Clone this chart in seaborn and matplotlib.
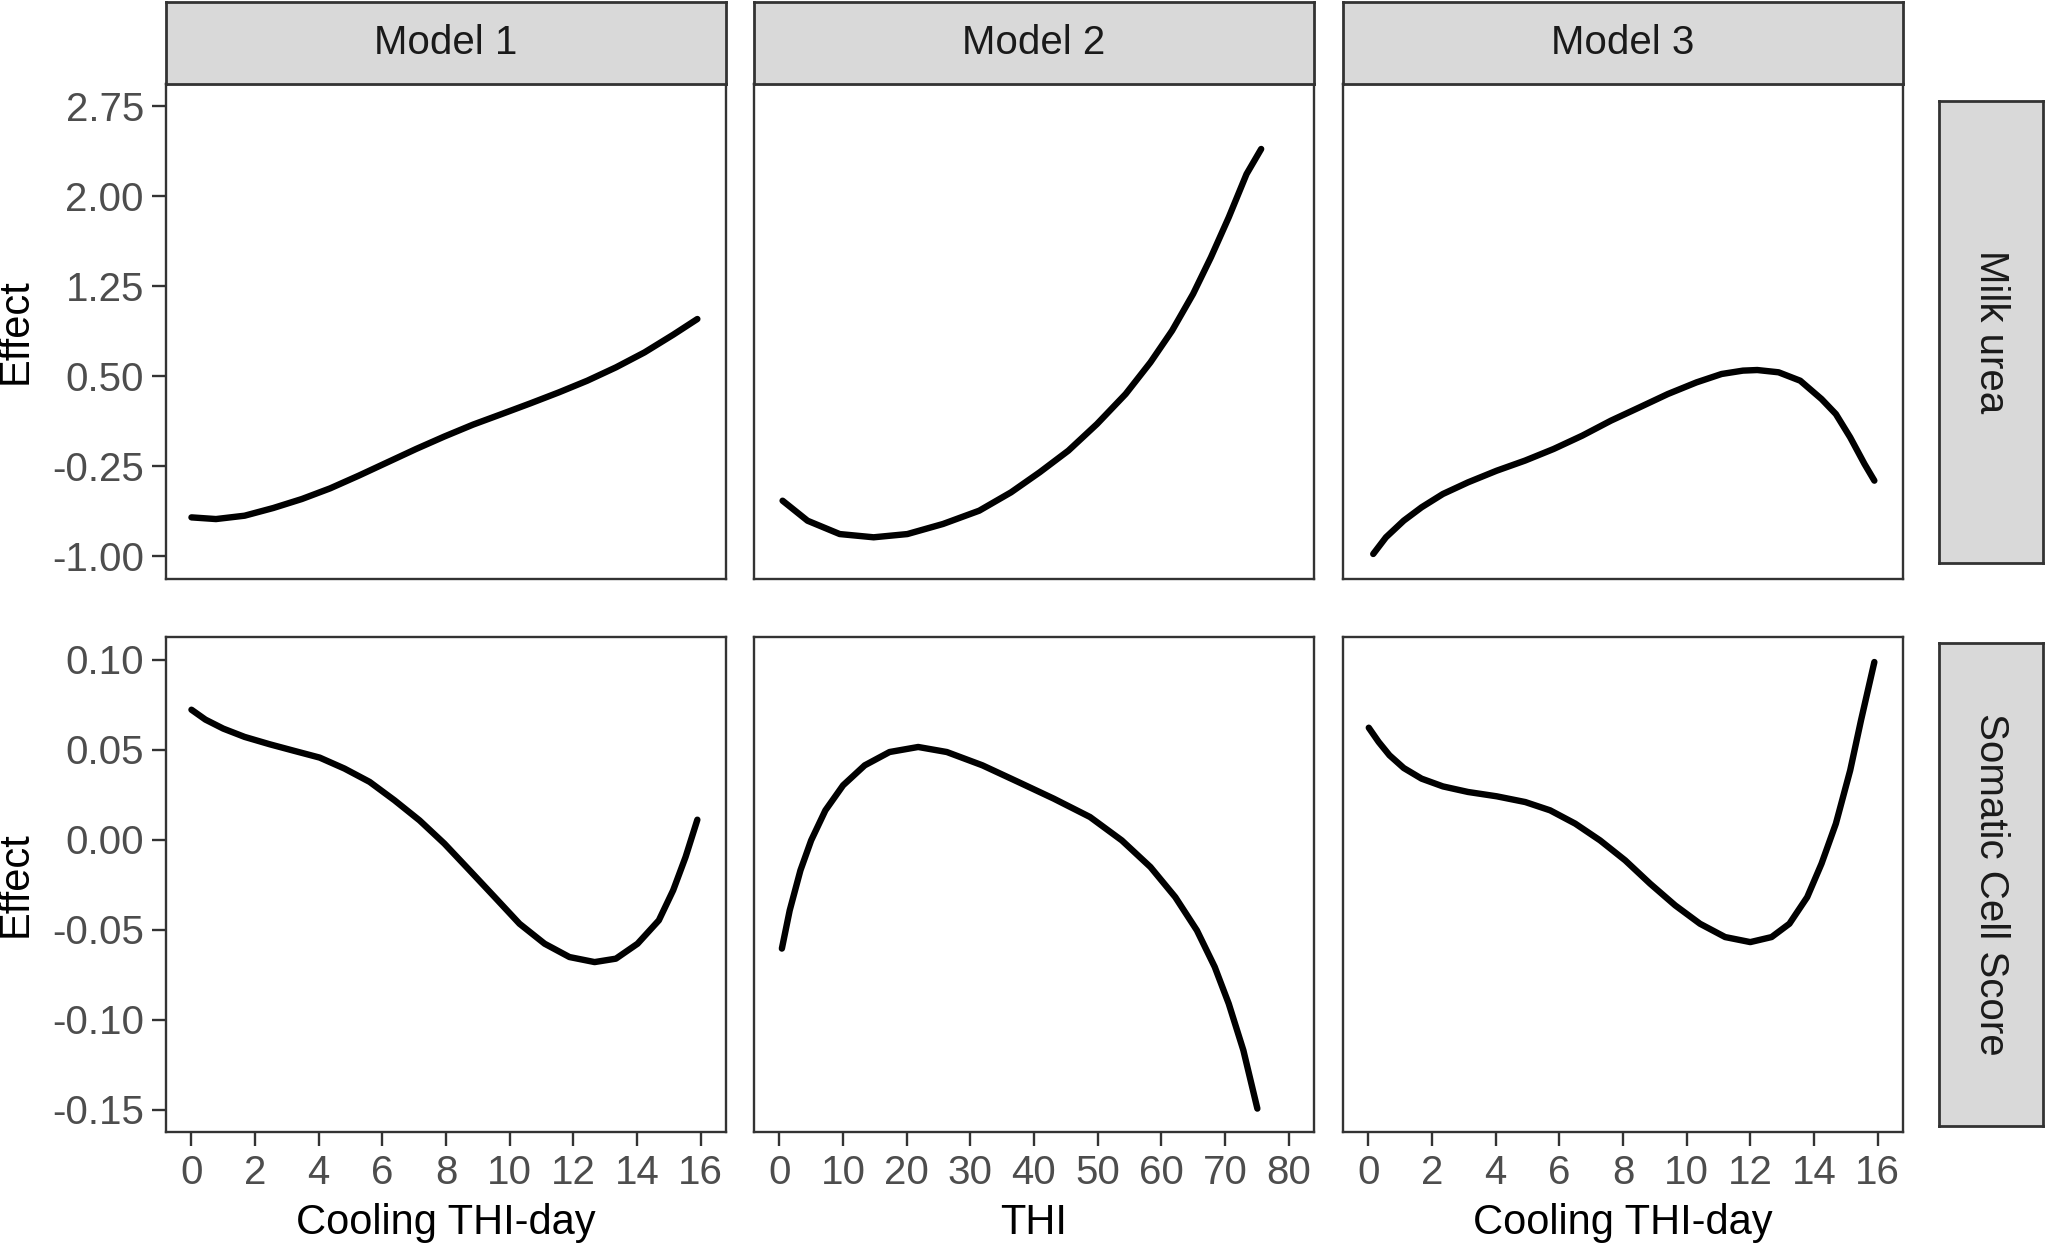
import numpy as np
import pandas as pd
import matplotlib
matplotlib.use("Agg")
import matplotlib.pyplot as plt
import seaborn as sns

# -----------------------------
# Data
# -----------------------------
models = ["Model 1", "Model 2", "Model 3"]
traits = ["Milk urea", "Somatic Cell Score"]
x_titles = ["Cooling THI-day", "THI", "Cooling THI-day"]

# Milk urea
urea_m1_x = [0.0, 0.77, 1.67, 2.57, 3.47, 4.36, 5.26, 6.16, 7.06, 7.95, 8.85,
             9.75, 10.65, 11.55, 12.44, 13.34, 14.24, 15.14, 15.9]
urea_m1_y = [-0.674, -0.688, -0.660, -0.596, -0.521, -0.432, -0.326, -0.215,
             -0.104, 0.0, 0.099, 0.187, 0.276, 0.368, 0.465, 0.576, 0.701,
             0.848, 0.979]

urea_m2_x = [0.49, 4.42, 9.47, 14.8, 20.1, 25.7, 31.4, 36.4, 40.9, 45.4, 49.9,
             54.4, 58.3, 61.7, 65.0, 67.8, 70.6, 73.4, 75.7]
urea_m2_y = [-0.535, -0.702, -0.813, -0.840, -0.813, -0.729, -0.618, -0.465,
             -0.298, -0.118, 0.104, 0.354, 0.618, 0.882, 1.188, 1.493, 1.826,
             2.187, 2.396]

urea_m3_x = [0.15, 0.55, 1.11, 1.67, 2.34, 3.13, 4.03, 4.92, 5.82, 6.72, 7.62,
             8.52, 9.41, 10.31, 11.10, 11.77, 12.22, 12.89, 13.57, 14.24,
             14.69, 15.14, 15.59, 15.90]
urea_m3_y = [-0.979, -0.840, -0.701, -0.590, -0.479, -0.382, -0.285, -0.201,
             -0.104, 0.007, 0.132, 0.243, 0.354, 0.451, 0.521, 0.549, 0.554,
             0.535, 0.465, 0.312, 0.187, -0.007, -0.229, -0.368]

# Somatic Cell Score
scs_m1_x = [0.0, 0.44, 1.0, 1.67, 2.46, 3.24, 4.03, 4.81, 5.60, 6.38, 7.17,
            7.95, 8.74, 9.53, 10.31, 11.10, 11.88, 12.67, 13.34, 14.02, 14.69,
            15.14, 15.53, 15.9]
scs_m1_y = [0.0721, 0.0666, 0.0616, 0.0570, 0.0529, 0.0492, 0.0455, 0.0394,
            0.0320, 0.0218, 0.0106, -0.0023, -0.0171, -0.0320, -0.0468,
            -0.0579, -0.0653, -0.0681, -0.0662, -0.0579, -0.0449, -0.0282,
            -0.0097, 0.0110]

scs_m2_x = [0.38, 1.61, 3.30, 4.98, 7.22, 10.0, 13.4, 17.3, 21.8, 26.3, 31.9,
            37.5, 43.1, 48.8, 53.8, 58.3, 62.2, 65.6, 68.4, 70.6, 72.9, 75.1]
scs_m2_y = [-0.0606, -0.0394, -0.0171, -0.0005, 0.0162, 0.0301, 0.0412,
            0.0486, 0.0514, 0.0486, 0.0412, 0.0320, 0.0227, 0.0125, -0.0005,
            -0.0153, -0.0320, -0.0505, -0.0708, -0.0912, -0.1171, -0.1495]

scs_m3_x = [0.01, 0.32, 0.66, 1.11, 1.67, 2.34, 3.13, 4.03, 4.93, 5.71, 6.50,
            7.28, 8.07, 8.85, 9.64, 10.42, 11.21, 12.0, 12.67, 13.23, 13.79,
            14.24, 14.69, 15.14, 15.48, 15.9]
scs_m3_y = [0.0621, 0.0542, 0.0468, 0.0397, 0.0338, 0.0295, 0.0264, 0.0240,
            0.0208, 0.0162, 0.0088, -0.0005, -0.0116, -0.0245, -0.0366,
            -0.0468, -0.0542, -0.0570, -0.0542, -0.0468, -0.0320, -0.0134,
            0.0088, 0.0384, 0.0662, 0.0986]

y_breaks = [[-1.00, -0.25, 0.50, 1.25, 2.00, 2.75],
            [-0.15, -0.10, -0.05, 0.00, 0.05, 0.10]]
x_breaks = [list(range(0, 17, 2)), list(range(0, 81, 10)), list(range(0, 17, 2))]

# -----------------------------
# Long table for plotting
# -----------------------------
series = {
    ("Milk urea", "Model 1"): (urea_m1_x, urea_m1_y),
    ("Milk urea", "Model 2"): (urea_m2_x, urea_m2_y),
    ("Milk urea", "Model 3"): (urea_m3_x, urea_m3_y),
    ("Somatic Cell Score", "Model 1"): (scs_m1_x, scs_m1_y),
    ("Somatic Cell Score", "Model 2"): (scs_m2_x, scs_m2_y),
    ("Somatic Cell Score", "Model 3"): (scs_m3_x, scs_m3_y),
}
frames = []
for (trait, model), (xs, ys) in series.items():
    frames.append(pd.DataFrame({"trait": trait, "model": model, "x": xs, "Effect": ys}))
df = pd.concat(frames, ignore_index=True)

# -----------------------------
# Style
# -----------------------------
sns.set_style("white")
plt.rcParams["font.family"] = ["Liberation Sans", "DejaVu Sans"]

W, H = 2045, 1245
fig = plt.figure(figsize=(W / 100, H / 100), dpi=100)

def box(x0, y0, w, h):
    # pixel box (from top-left) -> figure fraction
    return [x0 / W, 1 - (y0 + h) / H, w / W, h / H]

col_left = [166, 754, 1343]
col_w = 560
row_top = [84, 637]
row_h = 495
edge = "#333333"

def expand(lo, hi):
    d = (hi - lo) * 0.05
    return lo - d, hi + d

xlims = [expand(0, 16), expand(0, 80), expand(0, 16)]
ylims = [expand(-1.0, 2.75), expand(-0.15, 0.10)]

for r, trait in enumerate(traits):
    for c, model in enumerate(models):
        ax = fig.add_axes(box(col_left[c], row_top[r], col_w, row_h))
        sub = df[(df["trait"] == trait) & (df["model"] == model)]
        sns.lineplot(data=sub, x="x", y="Effect", ax=ax, color="black",
                     linewidth=4.6, errorbar=None)
        ax.set_xlim(*xlims[c])
        ax.set_ylim(*ylims[r])
        ax.set_xticks(x_breaks[c])
        ax.set_yticks(y_breaks[r])
        ax.set_yticklabels([f"{v:.2f}" for v in y_breaks[r]])
        for s in ax.spines.values():
            s.set_color(edge)
            s.set_linewidth(1.7)
        ax.tick_params(axis="both", length=10, width=1.7, color=edge,
                       labelcolor="#4D4D4D", labelsize=29, pad=6)
        ax.set_ylabel("")
        ax.set_xlabel("")
        if c > 0:
            ax.tick_params(axis="y", left=False, labelleft=False)
        else:
            ax.tick_params(axis="y", left=True)
        if r == 0:
            ax.tick_params(axis="x", bottom=False, labelbottom=False)
        else:
            ax.tick_params(axis="x", bottom=True)
            ax.set_xlabel(x_titles[c], fontsize=30, color="black", labelpad=8)

# top strips
for c, model in enumerate(models):
    sax = fig.add_axes(box(col_left[c], 2, col_w, 82))
    sax.set_facecolor("#D9D9D9")
    sax.set_xticks([])
    sax.set_yticks([])
    for s in sax.spines.values():
        s.set_color(edge)
        s.set_linewidth(2.0)
    sax.text(0.5, 0.5, model, ha="center", va="center", fontsize=29,
             color="#1A1A1A", transform=sax.transAxes)

# right strips
right_strips = [(101, 462), (643, 483)]
for r, trait in enumerate(traits):
    y0, h = right_strips[r]
    sax = fig.add_axes(box(1939, y0, 104, h))
    sax.set_facecolor("#D9D9D9")
    sax.set_xticks([])
    sax.set_yticks([])
    for s in sax.spines.values():
        s.set_color(edge)
        s.set_linewidth(2.0)
    sax.text(0.5, 0.5, trait, ha="center", va="center", fontsize=29,
             rotation=-90, color="#1A1A1A", transform=sax.transAxes)

# y axis titles
for r in range(2):
    yc = row_top[r] + row_h / 2
    fig.text(16 / W, 1 - yc / H, "Effect", rotation=90, ha="center",
             va="center", fontsize=30, color="black")

fig.savefig("out.png", dpi=100, facecolor="white")
